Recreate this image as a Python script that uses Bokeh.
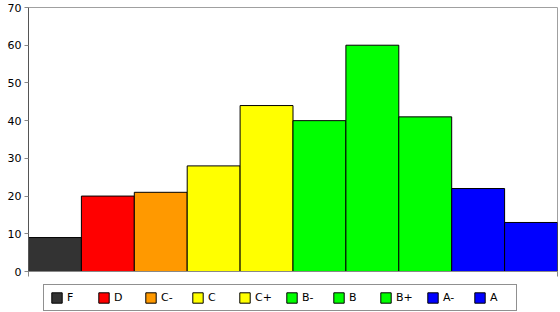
from bokeh.plotting import figure
from bokeh.layouts import column
from bokeh.models import ColumnDataSource, Legend, LegendItem, FixedTicker, Range1d
from bokeh.embed import file_html
from bokeh.resources import INLINE

grades = ["F", "D", "C-", "C", "C+", "B-", "B", "B+", "A-", "A"]
counts = [9, 20, 21, 28, 44, 40, 60, 41, 22, 13]
colors = ["#333333", "#ff0000", "#ff9900", "#ffff00", "#ffff00",
          "#00ff00", "#00ff00", "#00ff00", "#0000ff", "#0000ff"]
y_ticks = [0, 10, 20, 30, 40, 50, 60, 70]

pos = [i + 0.5 for i in range(len(grades))]
src = ColumnDataSource(dict(x=pos, top=counts, color=colors, grade=grades))

p = figure(width=560, height=279, output_backend="svg", toolbar_location=None,
           x_range=Range1d(0, len(grades)), y_range=Range1d(0, 70),
           min_border_left=28, min_border_right=3, min_border_top=7, min_border_bottom=8)
p.background_fill_color = "white"
p.border_fill_color = "white"
p.outline_line_color = "#a0a0a0"
p.outline_line_width = 1
p.xgrid.visible = False
p.ygrid.visible = False

r = p.vbar(x="x", top="top", width=1, bottom=0, fill_color="color",
           line_color="black", line_width=1, source=src)

p.yaxis.ticker = FixedTicker(ticks=y_ticks)
p.yaxis.minor_tick_line_color = None
p.yaxis.major_tick_in = 0
p.yaxis.major_tick_out = 4
p.yaxis.axis_line_color = "#555555"
p.yaxis.major_tick_line_color = "#888888"
p.yaxis.major_label_text_font = "DejaVu Sans"
p.yaxis.major_label_text_font_size = "11px"
p.yaxis.major_label_text_color = "black"
p.yaxis.major_label_standoff = 3

p.xaxis.ticker = FixedTicker(ticks=[0, len(grades)])
p.xaxis.minor_tick_line_color = None
p.xaxis.major_tick_in = 0
p.xaxis.major_tick_out = 5
p.xaxis.axis_line_color = "#888888"
p.xaxis.major_tick_line_color = "#888888"
p.xaxis.major_label_text_font_size = "1px"
p.xaxis.major_label_text_alpha = 0
p.xaxis.major_label_standoff = 0

# legend strip: same bars, drawn far outside its visible range
q = figure(width=560, height=33, output_backend="svg", toolbar_location=None,
           x_range=Range1d(0, len(grades)), y_range=Range1d(1000, 1001),
           min_border_left=0, min_border_right=0, min_border_top=0, min_border_bottom=0)
q.outline_line_color = None
q.xaxis.visible = False
q.yaxis.visible = False
q.xgrid.visible = False
q.ygrid.visible = False
r2 = q.vbar(x="x", top="top", width=1, bottom=0, fill_color="color",
            line_color="black", line_width=1, source=src)

items = [LegendItem(label=g, renderers=[r2], index=i) for i, g in enumerate(grades)]
legend = Legend(items=items, orientation="horizontal", location=(15, 1),
                glyph_width=13, glyph_height=13, label_width=20, label_standoff=4,
                spacing=10, padding=6, margin=0,
                label_text_font="DejaVu Sans", label_text_font_size="11px",
                label_text_color="black",
                border_line_color="#222222", border_line_width=1,
                background_fill_color="white")
q.add_layout(legend, "center")

layout = column(p, q, spacing=0)
open("out.html", "w").write(file_html(layout, INLINE))
